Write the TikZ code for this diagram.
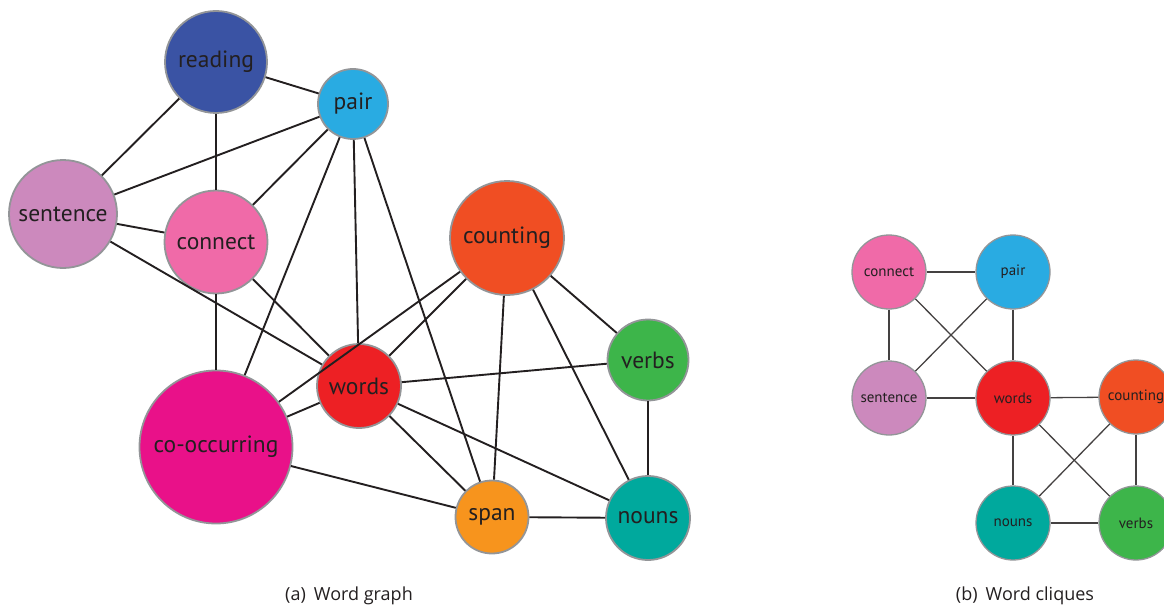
\documentclass[tikz,border=0pt]{standalone}
\usepackage{fontspec}
\setmainfont{PT Sans}
\newfontfamily\capfont{Open Sans}
\definecolor{cReading}{HTML}{3A53A4}
\definecolor{cPair}{HTML}{29ABE2}
\definecolor{cSentence}{HTML}{CC89BD}
\definecolor{cConnect}{HTML}{F06AA8}
\definecolor{cCounting}{HTML}{F04E23}
\definecolor{cVerbs}{HTML}{3DB54A}
\definecolor{cWords}{HTML}{ED2024}
\definecolor{cCooc}{HTML}{E91189}
\definecolor{cSpan}{HTML}{F7941D}
\definecolor{cNouns}{HTML}{00A99D}
\definecolor{cBorder}{HTML}{939598}
\definecolor{cText}{HTML}{231F20}
\tikzset{
  wnode/.style={circle, draw=cBorder, line width=1.8pt, inner sep=0pt, text=cText, font=\fontsize{23.5}{23.5}\selectfont},
  snode/.style={circle, draw=cBorder, line width=1.3pt, inner sep=0pt, minimum size=74pt, text=cText, font=\fontsize{15}{15}\selectfont},
  edge/.style={draw=cText, line width=1.9pt},
  sedge/.style={draw=cText!85, line width=1.3pt},
  caption/.style={font=\capfont\fontsize{18}{18}\selectfont, text=cText}
}
\begin{document}
\begin{tikzpicture}[x=1pt,y=-1pt]
\useasboundingbox (0,0) rectangle (1164,607);
% left graph nodes
\node[wnode, fill=cReading, minimum size=102pt] (reading) at (216,62) {reading};
\node[wnode, fill=cPair, minimum size=70pt] (pair) at (353,104) {pair};
\node[wnode, fill=cSentence, minimum size=108pt] (sentence) at (63,214) {sentence};
\node[wnode, fill=cConnect, minimum size=103pt] (connect) at (216,242) {connect};
\node[wnode, fill=cCounting, minimum size=114pt] (counting) at (507,238) {counting};
\node[wnode, fill=cVerbs, minimum size=81pt] (verbs) at (648,360) {verbs};
\node[wnode, fill=cWords, minimum size=84pt] (words) at (359,386) {words};
\node[wnode, fill=cCooc, minimum size=153pt] (cooc) at (216,447) {co-occurring};
\node[wnode, fill=cSpan, minimum size=73pt] (span) at (492,517) {span};
\node[wnode, fill=cNouns, minimum size=84pt] (nouns) at (648,518) {nouns};
% left graph edges
\foreach \a/\b in {reading/pair, reading/sentence, reading/connect,
  pair/sentence, pair/connect, pair/cooc, pair/words, pair/span,
  sentence/connect, sentence/words, connect/cooc, connect/words,
  counting/cooc, counting/words, counting/span, counting/verbs, counting/nouns,
  verbs/words, verbs/nouns, words/cooc, words/span, words/nouns,
  cooc/span, span/nouns}
  \draw[edge] (\a) -- (\b);
% right graph nodes
\node[snode, fill=cConnect] (rconnect) at (889,272) {connect};
\node[snode, fill=cPair] (rpair) at (1013,272) {pair};
\node[snode, fill=cSentence] (rsentence) at (889,398) {sentence};
\node[snode, fill=cWords] (rwords) at (1013,398) {words};
\node[snode, fill=cCounting] (rcounting) at (1136,397) {counting};
\node[snode, fill=cNouns] (rnouns) at (1013,523) {nouns};
\node[snode, fill=cVerbs] (rverbs) at (1136,523) {verbs};
\foreach \a/\b in {rconnect/rpair, rconnect/rsentence, rconnect/rwords,
  rpair/rsentence, rpair/rwords, rsentence/rwords,
  rwords/rcounting, rwords/rnouns, rwords/rverbs,
  rcounting/rnouns, rcounting/rverbs, rnouns/rverbs}
  \draw[sedge] (\a) -- (\b);
% captions
\node[caption] (capa) at (349,596) {(a)\hspace{0.45em}Word graph};
\node[caption] (capb) at (1025,596) {(b)\hspace{0.45em}Word cliques};
\end{tikzpicture}
\end{document}
